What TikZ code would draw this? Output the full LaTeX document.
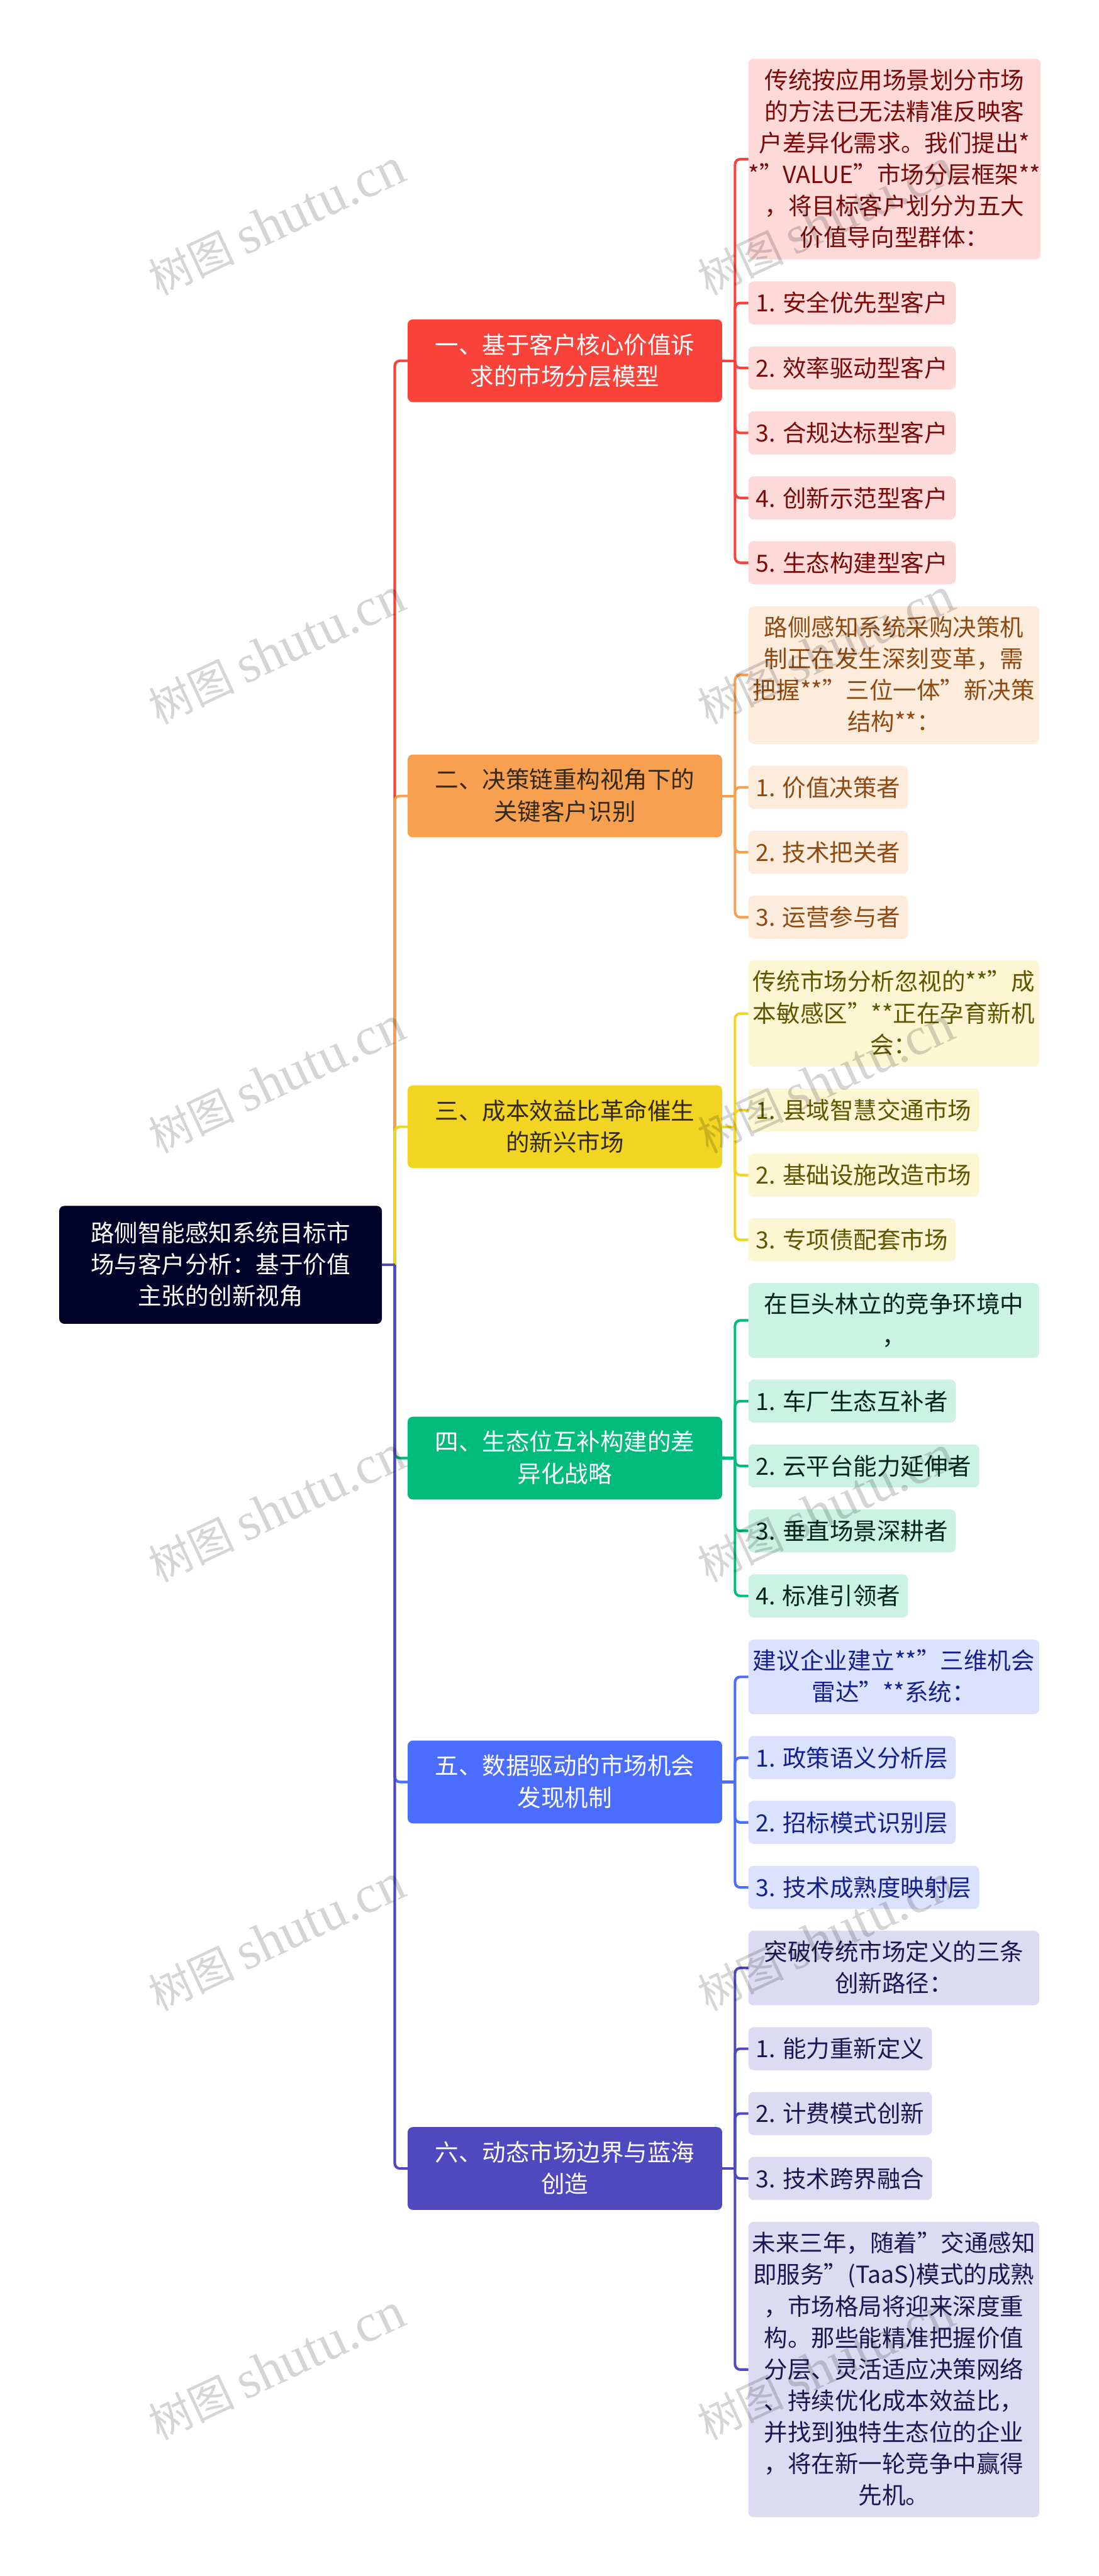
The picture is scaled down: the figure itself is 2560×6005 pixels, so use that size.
\documentclass[tikz,border=0pt]{standalone}
\usepackage{fontspec}
\setmainfont{Noto Sans CJK SC}
\newfontfamily\stampfont{Liberation Serif}
\newfontfamily\stampcjk{Noto Sans CJK SC}

\definecolor{line1}{HTML}{F9423A}
\definecolor{line2}{HTML}{F7A04F}
\definecolor{line3}{HTML}{F2D523}
\definecolor{line4}{HTML}{00BC7A}
\definecolor{line5}{HTML}{4A6DFF}
\definecolor{line6}{HTML}{4E49BE}
\definecolor{bg1}{HTML}{FDD9D8}
\definecolor{bg2}{HTML}{FDEBDC}
\definecolor{bg3}{HTML}{FCF6D3}
\definecolor{bg4}{HTML}{CCF2E4}
\definecolor{bg5}{HTML}{DBE2FF}
\definecolor{bg6}{HTML}{DCDBF2}
\definecolor{ink1}{HTML}{7A0A0A}
\definecolor{ink2}{HTML}{8F4A12}
\definecolor{ink3}{HTML}{5E5600}
\definecolor{ink4}{HTML}{00261A}
\definecolor{ink5}{HTML}{14208C}
\definecolor{ink6}{HTML}{1A1850}
\definecolor{head1}{HTML}{FFFFFF}
\definecolor{head2}{HTML}{33291A}
\definecolor{head3}{HTML}{33291A}
\definecolor{head4}{HTML}{FFFFFF}
\definecolor{head5}{HTML}{FFFFFF}
\definecolor{head6}{HTML}{FFFFFF}
\definecolor{rootfill}{HTML}{000229}

\tikzset{
  card/.style={inner sep=0pt, outer sep=0pt, rounded corners=6pt, align=center,
    font=\fontsize{27.5}{36.75}\selectfont,
    execute at begin node={\rule[-3.55pt]{0pt}{28pt}},
    execute at end node={\rule[-3.55pt]{0pt}{28pt}}},
  conn/.style={line width=3pt, rounded corners=6pt},
  stamp/.style={inner sep=0pt, rotate=25, text=black, text opacity=0.165},
}

\begin{document}
\begin{tikzpicture}[x=0.5pt, y=-0.5pt]

% GLOBAL SETTINGS
\newcommand{\leafx}{1744}
\newcommand{\branchx}{1316.5}
\useasboundingbox (0,0) rectangle (2560,6005);

% ROOT
\node[card, fill=rootfill, text=white, minimum width=376pt, minimum height=137.5pt] (Root) at (514,2948.5)
  {路侧智能感知系统目标市\\场与客户分析：基于价值\\主张的创新视角};
\path (Root.east) +(30,0) coordinate (S0);

% BRANCHES
\foreach \g/\y/\t in {
  1/841/{一、基于客户核心价值诉\\求的市场分层模型},
  2/1855.5/{二、决策链重构视角下的\\关键客户识别},
  3/2626.5/{三、成本效益比革命催生\\的新兴市场},
  4/3399/{四、生态位互补构建的差\\异化战略},
  5/4154/{五、数据驱动的市场机会\\发现机制},
  6/5055/{六、动态市场边界与蓝海\\创造}} {
  \node[card, fill=line\g, text=head\g, minimum width=366.5pt, minimum height=96.5pt] (B\g) at (\branchx,\y) {\t};
  \path (B\g.east) +(30,0) coordinate (S\g);
  \draw[conn, line\g] (S0) |- (B\g.west);
  \draw[conn, line\g] (B\g.east) -- (S\g);
}
\draw[conn, line6] (Root.east) -- (S0);

% LEAVES
\foreach \g/\n/\y/\w/\h/\t in {
  1/0/137/678/468/{传统按应用场景划分市场\\的方法已无法精准反映客\\户差异化需求。我们提出*\\*"VALUE"市场分层框架**\\，将目标客户划分为五大\\价值导向型群体：},
  1/1/656/483/100.5/{1. 安全优先型客户},
  1/2/807.5/483/100.5/{2. 效率驱动型客户},
  1/3/959/483/100.5/{3. 合规达标型客户},
  1/4/1110.5/483/100.5/{4. 创新示范型客户},
  1/5/1261.5/483/100.5/{5. 生态构建型客户},
  2/0/1413/678/321/{路侧感知系统采购决策机\\制正在发生深刻变革，需\\把握**"三位一体"新决策\\结构**：},
  2/1/1785/372/100.5/{1. 价值决策者},
  2/2/1936.5/372/100.5/{2. 技术把关者},
  2/3/2088/372/100.5/{3. 运营参与者},
  3/0/2239/678/247.5/{传统市场分析忽视的**"成\\本敏感区"**正在孕育新机\\会：},
  3/1/2537.5/538/100.5/{1. 县域智慧交通市场},
  3/2/2689/538/100.5/{2. 基础设施改造市场},
  3/3/2840/483/100.5/{3. 专项债配套市场},
  4/0/2991/678/174/{在巨头林立的竞争环境中\\，},
  4/1/3216/483/100.5/{1. 车厂生态互补者},
  4/2/3367/538/100.5/{2. 云平台能力延伸者},
  4/3/3518.5/483/100.5/{3. 垂直场景深耕者},
  4/4/3670/372/100.5/{4. 标准引领者},
  5/0/3822/678/174/{建议企业建立**"三维机会\\雷达"**系统：},
  5/1/4047/483/100.5/{1. 政策语义分析层},
  5/2/4198/483/100.5/{2. 招标模式识别层},
  5/3/4349.5/538/100.5/{3. 技术成熟度映射层},
  6/0/4500.5/678/174/{突破传统市场定义的三条\\创新路径：},
  6/1/4725.5/428/100.5/{1. 能力重新定义},
  6/2/4876.5/428/100.5/{2. 计费模式创新},
  6/3/5028/428/100.5/{3. 技术跨界融合},
  6/4/5179.5/678/688.5/{未来三年，随着"交通感知\\即服务"(TaaS)模式的成熟\\，市场格局将迎来深度重\\构。那些能精准把握价值\\分层、灵活适应决策网络\\、持续优化成本效益比，\\并找到独特生态位的企业\\，将在新一轮竞争中赢得\\先机。}} {
  \node[card, anchor=north west, fill=bg\g, text=ink\g, minimum width=\w*0.5pt, minimum height=\h*0.5pt] (L\g\n) at (\leafx,\y) {\t};
  \draw[conn, line\g] (S\g) |- (L\g\n.west);
}

% WATERMARK
\foreach \k in {0,...,5} {
  \foreach \i/\x in {1/645,2/1925} {
    \node[stamp] (W\i\k) at (\x,518+1000*\k)
      {\fontsize{50}{60}\selectfont\stampcjk 树图 \fontsize{62.5}{60}\selectfont\stampfont shutu.cn};
  }
}

\end{tikzpicture}
\end{document}
